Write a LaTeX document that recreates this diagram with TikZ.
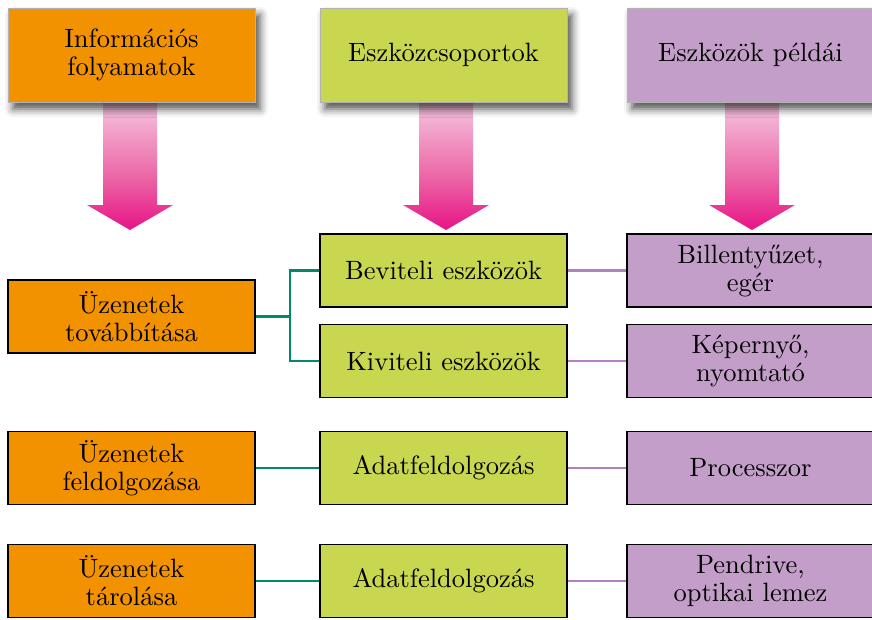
\documentclass[tikz,border=0pt]{standalone}
\usepackage{fontspec}
\setmainfont{lmroman10-regular}[Extension=.otf]
\usetikzlibrary{shadows.blur}
\definecolor{orangebox}{RGB}{243,146,0}
\definecolor{greenbox}{RGB}{200,214,80}
\definecolor{purplebox}{RGB}{195,158,201}
\definecolor{gline}{RGB}{0,138,104}
\definecolor{pline}{RGB}{180,128,192}
\definecolor{magarrow}{RGB}{230,0,126}
\definecolor{pinkmid}{RGB}{236,100,165}
\definecolor{pinklight}{RGB}{245,200,225}
\definecolor{pinkpale}{RGB}{252,238,245}
\pgfdeclareverticalshading{arrowshade}{100bp}{color(0bp)=(magarrow); color(20bp)=(magarrow); color(45bp)=(pinkmid); color(75bp)=(pinklight); color(100bp)=(pinkpale)}
\begin{document}
\begin{tikzpicture}[x=1pt,y=-1pt,
  txt/.style={font=\fontsize{26.5}{28}\selectfont, align=center, inner sep=0pt},
  header/.style={txt, minimum width=247pt, minimum height=94pt, draw=black!30, line width=0.8pt,
    blur shadow={shadow xshift=5pt, shadow yshift=-7pt, shadow blur radius=8pt, shadow opacity=70}},
  rowbox/.style={txt, minimum width=247pt, minimum height=73pt, draw=black, line width=1.5pt},
  obox/.style={rowbox, fill=orangebox},
  gbox/.style={rowbox, fill=greenbox},
  pbox/.style={rowbox, fill=purplebox},
  gconn/.style={draw=gline, line width=2.6pt},
  pconn/.style={draw=pline, line width=2.6pt},
  bigarrow/.style={shading=arrowshade}
]
\useasboundingbox (0,0) rectangle (872,619);

% arrows
\foreach \cx in {130,446,752}{
  \shade[bigarrow] (\cx-27,100) -- (\cx+27,100) -- (\cx+27,205) -- (\cx+43,205) -- (\cx,230)
     -- (\cx-43,205) -- (\cx-27,205) -- cycle;
}

% headers
\node[header, fill=orangebox] (h1) at (131.5,55) {Információs\\folyamatok};
\node[header, fill=greenbox] (h2) at (443.5,55) {Eszközcsoportok};
\node[header, fill=purplebox] (h3) at (750.5,55) {Eszközök példái};

% row 1
\node[obox] (u1) at (131.5,316.5) {Üzenetek\\továbbítása};
\node[gbox] (bev) at (443.5,270.5) {Beviteli eszközök};
\node[gbox] (kiv) at (443.5,361) {Kiviteli eszközök};
\node[pbox] (p1) at (750.5,270.5) {Billentyűzet,\\egér};
\node[pbox] (p2) at (750.5,361) {Képernyő,\\nyomtató};

% row 2
\node[obox] (u2) at (131.5,468) {Üzenetek\\feldolgozása};
\node[gbox] (a1) at (443.5,468) {Adatfeldolgozás};
\node[pbox] (p3) at (750.5,468) {Processzor};

% row 3
\node[obox] (u3) at (131.5,581) {Üzenetek\\tárolása};
\node[gbox] (a2) at (443.5,581) {Adatfeldolgozás};
\node[pbox] (p4) at (750.5,581) {Pendrive,\\optikai lemez};

% connectors
\coordinate (j) at (290,0);
\draw[gconn] (u1.east) -- (u1.east -| j);
\draw[gconn] (bev.west) -- (bev.west -| j) -- (kiv.west -| j) -- (kiv.west);
\draw[gconn] (u2.east) -- (a1.west);
\draw[gconn] (u3.east) -- (a2.west);
\draw[pconn] (bev.east) -- (p1.west);
\draw[pconn] (kiv.east) -- (p2.west);
\draw[pconn] (a1.east) -- (p3.west);
\draw[pconn] (a2.east) -- (p4.west);
\end{tikzpicture}
\end{document}
